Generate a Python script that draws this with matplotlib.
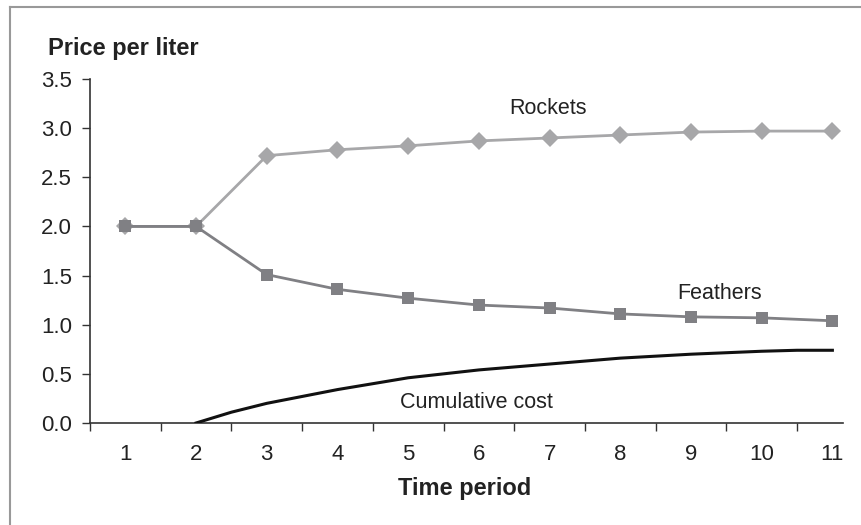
import matplotlib.pyplot as plt
import matplotlib.ticker as ticker
from matplotlib.lines import Line2D

plt.rcParams['font.family'] = ['Liberation Sans', 'DejaVu Sans']

# Data
periods = [1, 2, 3, 4, 5, 6, 7, 8, 9, 10, 11]
rockets = [2.0, 2.0, 2.72, 2.78, 2.82, 2.87, 2.90, 2.93, 2.96, 2.97, 2.97]
feathers = [2.0, 2.0, 1.51, 1.36, 1.27, 1.20, 1.17, 1.11, 1.08, 1.07, 1.04]
cost_x = [2, 2.5, 3, 4, 5, 6, 7, 8, 9, 10, 10.5, 11]
cost_y = [0.0, 0.11, 0.20, 0.34, 0.46, 0.54, 0.60, 0.66, 0.70, 0.73, 0.74, 0.74]
y_ticks = [0.0, 0.5, 1.0, 1.5, 2.0, 2.5, 3.0, 3.5]


def main():
    fig = plt.figure(figsize=(8.62, 5.25), dpi=100)
    ax = fig.add_axes([90 / 862, 1 - 423 / 525, (843 - 90) / 862, (423 - 79) / 525])

    ax.plot(periods, rockets, color='#a7a7a9', lw=2, marker='D', ms=9,
            markeredgewidth=0, zorder=3)
    ax.plot(periods, feathers, color='#808084', lw=2, marker='s', ms=8.5,
            markeredgewidth=0, zorder=3)
    ax.plot(cost_x, cost_y, color='#111111', lw=2.2, zorder=3)

    ax.text(6.98, 3.2, 'Rockets', ha='center', va='center', fontsize=15.5, color='#222222')
    ax.text(9.4, 1.32, 'Feathers', ha='center', va='center', fontsize=15.5, color='#222222')
    ax.text(5.96, 0.21, 'Cumulative cost', ha='center', va='center', fontsize=15.5, color='#222222')

    ax.set_xlim(0.5, 11.15)
    ax.set_ylim(0, 3.5)

    # boundary ticks between categories, labels centred on categories
    ax.xaxis.set_major_locator(ticker.FixedLocator([p - 0.5 for p in periods]))
    ax.xaxis.set_major_formatter(ticker.NullFormatter())
    ax.xaxis.set_minor_locator(ticker.FixedLocator(periods))
    ax.xaxis.set_minor_formatter(ticker.FixedFormatter([str(p) for p in periods]))
    ax.tick_params(axis='x', which='major', direction='out', length=6, width=1, color='#333333')
    ax.tick_params(axis='x', which='minor', length=0, pad=15, labelsize=16, labelcolor='#222222')

    ax.set_yticks(y_ticks)
    ax.yaxis.set_major_formatter(ticker.StrMethodFormatter('{x:.1f}'))
    ax.tick_params(axis='y', direction='out', length=6, width=1, color='#333333',
                   labelsize=16, labelcolor='#222222', pad=7)

    for side in ['top', 'right']:
        ax.spines[side].set_visible(False)
    for side in ['left', 'bottom']:
        ax.spines[side].set_color('#333333')
        ax.spines[side].set_linewidth(1.2)

    fig.text(123 / 862, 1 - 49 / 525, 'Price per liter', ha='center', va='center',
             fontsize=17, fontweight='bold', color='#222222')
    fig.text(465 / 862, 1 - 489 / 525, 'Time period', ha='center', va='center',
             fontsize=17, fontweight='bold', color='#222222')

    # gray frame on the top and left edges
    fig.add_artist(Line2D([10.5 / 862, 1], [1 - 6.5 / 525, 1 - 6.5 / 525],
                          transform=fig.transFigure, color='#999999', lw=1.5))
    fig.add_artist(Line2D([10.5 / 862, 10.5 / 862], [0, 1 - 6.5 / 525],
                          transform=fig.transFigure, color='#999999', lw=1.5))

    fig.savefig('out.png', dpi=100)


if __name__ == "__main__":
    main()
